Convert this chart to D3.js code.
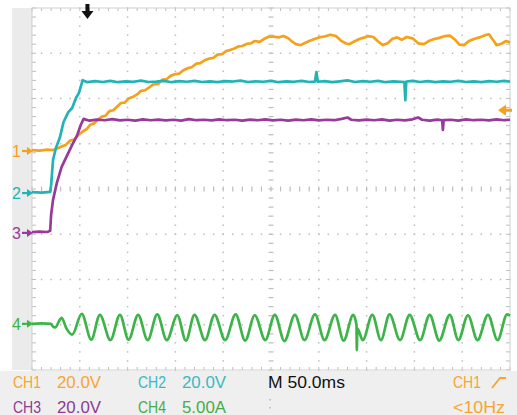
<!DOCTYPE html>
<html>
<head>
<meta charset="utf-8">
<script src="https://cdn.jsdelivr.net/npm/d3@7"></script>
<style>
  html, body { margin: 0; padding: 0; background: #fff; }
  svg { display: block; font-family: "Liberation Sans", Arial, sans-serif; }
</style>
</head>
<body>
<svg id="scope" width="517" height="415"></svg>
<script>
// ---- Acquisition: 50 ms/div, 10 divisions => 0..500 ms ----
const timeRangeMs = [0, 500];

// CH1 (V) – slow ramp to ~49 V with ripple
const ch1Trace = [
  [0,0.4],[8,0.2],[16,0.6],[22,0.4],[27,1.2],[31,2.0],[35,2.6],[40,4.6],[44,5.0],[49,7.4],
  [53,8.6],[57,9.6],[61,11.6],[65,12.2],[69,13.9],[73,15.2],[77,15.6],[81,17.6],[85,18.0],
  [89,19.6],[93,21.2],[97,21.4],[101,23.2],[106,24.0],[110,25.0],[114,26.6],[118,26.8],
  [123,28.2],[127,29.4],[132,29.6],[136,31.4],[141,31.8],[145,33.2],[150,34.0],[154,34.2],
  [158,35.6],[163,36.6],[167,37.0],[172,38.6],[176,38.8],[181,40.2],[185,40.8],[190,41.2],
  [194,42.6],[199,42.8],[203,44.2],[207,44.6],[211,45.2],[216,46.2],[220,46.4],[225,47.4],
  [229,47.6],[233,48.6],[238,48.2],[243,49.6],[247,50.4],[252,50.6],[258,50.2],[263,50.8],
  [268,49.8],[272,48.4],[276,47.2],[281,46.8],[286,47.8],[290,48.6],[295,49.4],[300,50.2],
  [306,50.6],[312,51.4],[318,50.8],[323,48.8],[328,47.6],[332,47.2],[337,48.4],[343,49.6],
  [348,50.2],[352,50.8],[357,50.4],[362,48.4],[367,46.8],[372,47.6],[377,49.6],[382,50.2],
  [387,49.2],[392,50.4],[398,49.8],[404,47.6],[410,47.2],[415,48.6],[420,49.4],[426,50.0],
  [432,50.8],[437,51.0],[442,49.4],[447,47.0],[452,46.8],[457,48.6],[463,49.6],[468,50.2],
  [474,51.2],[478,51.6],[483,48.6],[486,46.8],[491,47.4],[496,48.6],[500,48.0]
];

// CH2 (V) – fast step to ~49 V
const ch2Trace = [
  [0,0.4],[10,0.2],[19,0.5],[20,3.5],[22,14.6],[25,19.9],[29,24.3],[33,31.4],[38,35.8],
  [42,37.6],[46,42.0],[49,44.2],[53,49.9],[58,49.0],[66,49.5],[74,49.1],[82,49.6],[90,49.0],
  [98,49.4],[106,49.2],[114,49.7],[122,49.1],[130,49.3],[138,49.6],[146,49.0],[154,49.5],
  [162,49.2],[170,49.6],[178,49.1],[186,49.4],[194,49.0],[202,49.5],[210,49.3],[218,49.7],
  [226,49.1],[234,49.4],[242,49.2],[250,49.6],[258,49.0],[266,49.4],[274,49.2],[282,49.6],
  [290,49.1],[296,49.3],[297.5,53.5],[299,49.2],[306,49.5],[314,49.0],[322,49.4],[330,49.8],
  [338,49.1],[346,49.5],[354,49.2],[362,49.6],[370,49.0],[378,49.4],[386,49.2],[389.5,49.0],
  [390.5,41.1],[391.5,49.3],[398,49.6],[406,49.1],[414,49.5],[422,49.0],[430,49.4],[438,49.2],
  [446,49.6],[454,49.1],[462,49.4],[470,49.0],[478,49.5],[486,49.2],[494,49.6],[500,49.2]
];

// CH3 (V) – step to ~50 V
const ch3Trace = [
  [0,0.4],[8,0.6],[16,0.4],[19,0.9],[20,8.0],[22,14.6],[26,22.1],[31,29.2],[37,34.5],
  [42,38.9],[47,42.9],[51,47.7],[54,50.4],[60,49.6],[68,50.1],[76,49.8],[84,50.3],[92,49.7],
  [100,50.0],[108,49.6],[116,50.2],[124,49.8],[132,50.1],[140,49.7],[148,50.0],[156,49.6],
  [164,50.3],[172,49.8],[180,50.0],[188,49.7],[196,50.2],[204,49.8],[212,50.0],[220,49.6],
  [228,50.1],[236,49.8],[244,50.2],[252,49.7],[260,50.0],[268,49.6],[276,50.1],[284,49.8],
  [292,50.2],[300,49.7],[308,50.0],[316,49.8],[324,50.4],[330,51.0],[334,50.0],[342,49.7],
  [350,50.1],[358,49.8],[366,50.2],[374,49.6],[382,50.0],[390,49.7],[398,50.2],[404,51.0],
  [408,50.0],[416,49.6],[424,50.1],[429,49.8],[429.8,45.5],[430.6,49.8],[438,50.0],[446,49.6],
  [454,50.2],[462,49.8],[470,50.0],[478,49.7],[486,50.2],[494,49.8],[500,50.0]
];

// CH4 (A) – ~50 Hz current oscillation (peaks / troughs)
const ch4Trace = [
  [0,0],[10,0.05],[20,0],[22,-0.3],[24,-0.4],[31,0.65],[36,-0.5],[42,-1.2],[52,1.1],
  [62,-1.75],[71,1.0],[82,-1.8],[92,1.0],[101,-1.75],[111,1.0],[121,-1.8],[131,1.05],
  [141,-1.8],[152,0.95],[161,-1.85],[170,1.0],[181,-1.8],[191,1.0],[202,-1.8],[213,1.05],
  [223,-1.85],[233,0.95],[244,-1.8],[254,1.0],[264,-1.9],[275,1.0],[285,-1.8],[296,1.05],
  [306,-1.8],[317,1.0],[326,-1.85],[336,1.0],[339.4,-0.1],[339.8,-2.9],[340.3,-0.5],
  [346,-1.8],[356,1.0],[365,-1.8],[374,1.05],[385,-1.8],[395,1.0],[406,-1.8],[416,1.0],
  [426,-1.85],[437,1.0],[446,-1.8],[456,0.95],[466,-1.8],[477,1.0],[487,-1.8],[497,1.05],
  [500,0.9]
];

// Readout texts
const scaleLabels = [
  { ch: "CH1", scale: "20.0V" },
  { ch: "CH2", scale: "20.0V" },
  { ch: "CH3", scale: "20.0V" },
  { ch: "CH4", scale: "5.00A" }
];
const timebaseLabel = "M 50.0ms";
const triggerSourceLabel = "CH1";
const triggerFreqLabel = "<10Hz";
const triggerTimeMs = 58;
const triggerLevelV = 18;

// ---- Display setup ----
const svg = d3.select("#scope");
const W = 517, H = 415;
const L = 32, R = 510, T = 8, B = 370;

const x = d3.scaleLinear().domain(timeRangeMs).range([L, R]);
const yDiv = d3.scaleLinear().domain([-4, 4]).range([B, T]);

const channels = [
  { id: "1", color: "#f5a11c", text: "#f6a530", perDiv: 20, offset: 0.84, data: ch1Trace, curve: d3.curveLinear },
  { id: "2", color: "#22b3b6", text: "#38b9c2", perDiv: 20, offset: -0.09, data: ch2Trace, curve: d3.curveLinear },
  { id: "3", color: "#983a9c", text: "#8d3b92", perDiv: 20, offset: -0.97, data: ch3Trace, curve: d3.curveLinear },
  { id: "4", color: "#3db449", text: "#46ad46", perDiv: 5, offset: -2.98, data: ch4Trace, curve: d3.curveMonotoneX }
];
const yOf = (c, v) => yDiv(c.offset + v / c.perDiv);

// background panels
svg.append("rect").attr("x", 0).attr("y", 0).attr("width", W).attr("height", H).attr("fill", "#fff");
svg.append("rect").attr("x", 0).attr("y", B + 1).attr("width", W).attr("height", H - B - 1).attr("fill", "#efefef");
svg.append("rect").attr("x", 12).attr("y", T).attr("width", L - 12).attr("height", B - T).attr("fill", "#ebebeb");
svg.append("rect").attr("x", L).attr("y", T).attr("width", R - L).attr("height", B - T).attr("fill", "#fff");

// graticule
const g = svg.append("g");
const minorX = d3.range(0, 51).map(i => L + i * (R - L) / 50);
const minorY = d3.range(0, 41).map(i => T + i * (B - T) / 40);
const majorX = d3.range(1, 10).map(i => L + i * (R - L) / 10);
const majorY = d3.range(1, 8).map(i => T + i * (B - T) / 8);
const cx = majorX[4], cy = majorY[3];
const dotCol = "#bdbdbd";

majorY.filter(v => v !== cy).forEach(yy => {
  minorX.forEach(xx => g.append("rect").attr("x", xx - 0.75).attr("y", yy - 0.75)
    .attr("width", 1.5).attr("height", 1.5).attr("fill", dotCol));
});
majorX.filter(v => v !== cx).forEach(xx => {
  minorY.forEach(yy => g.append("rect").attr("x", xx - 0.75).attr("y", yy - 0.75)
    .attr("width", 1.5).attr("height", 1.5).attr("fill", dotCol));
});
// centre axes with ticks
minorY.forEach(yy => g.append("line").attr("x1", cx - 2.5).attr("x2", cx + 2.5)
  .attr("y1", yy).attr("y2", yy).attr("stroke", dotCol).attr("stroke-width", 1.2));
minorX.forEach(xx => g.append("line").attr("x1", xx).attr("x2", xx)
  .attr("y1", cy - 2.5).attr("y2", cy + 2.5).attr("stroke", dotCol).attr("stroke-width", 1.2));
// edge ticks
minorX.forEach(xx => {
  g.append("line").attr("x1", xx).attr("x2", xx).attr("y1", T).attr("y2", T + 3).attr("stroke", dotCol);
  g.append("line").attr("x1", xx).attr("x2", xx).attr("y1", B - 3).attr("y2", B).attr("stroke", dotCol);
});
minorY.forEach(yy => {
  g.append("line").attr("x1", L).attr("x2", L + 4).attr("y1", yy).attr("y2", yy).attr("stroke", dotCol);
  g.append("line").attr("x1", R - 4).attr("x2", R).attr("y1", yy).attr("y2", yy).attr("stroke", dotCol);
});
g.append("rect").attr("x", L).attr("y", T).attr("width", R - L).attr("height", B - T)
  .attr("fill", "none").attr("stroke", "#cfcfcf").attr("stroke-width", 1);

// traces
const traces = svg.append("g");
channels.forEach(c => {
  const line = d3.line().x(d => x(d[0])).y(d => yOf(c, d[1])).curve(c.curve);
  traces.append("path").attr("d", line(c.data)).attr("fill", "none")
    .attr("stroke", c.color).attr("stroke-width", 2.7).attr("stroke-linejoin", "round");
});

// channel ground markers
channels.forEach(c => {
  const yy = yOf(c, 0);
  const m = svg.append("g").attr("fill", c.color);
  m.append("text").attr("x", 12).attr("y", yy + 6).attr("font-size", 16).text(c.id);
  m.append("line").attr("x1", 22).attr("x2", 28).attr("y1", yy).attr("y2", yy)
    .attr("stroke", c.color).attr("stroke-width", 2.2);
  m.append("path").attr("d", `M27,${yy - 4}L33,${yy}L27,${yy + 4}Z`);
});

// trigger position marker
const tx = x(triggerTimeMs);
svg.append("path").attr("fill", "#111")
  .attr("d", `M${tx - 2},4H${tx + 2}V11H${tx + 6}L${tx},19L${tx - 6},11H${tx - 2}Z`);

// trigger level marker (CH1)
const ty = yOf(channels[0], triggerLevelV);
svg.append("path").attr("fill", channels[0].color)
  .attr("d", `M${R - 12},${ty}L${R - 4},${ty - 5.5}V${ty - 1.5}H${R + 2}V${ty + 1.5}H${R - 4}V${ty + 5.5}Z`);

// readouts
const rd = svg.append("g").attr("font-size", 16);
const put = (txt, xx, yy, w, col) => rd.append("text").attr("x", xx).attr("y", yy)
  .attr("fill", col).attr("textLength", w).attr("lengthAdjust", "spacingAndGlyphs").text(txt);
const pos = [[13, 388], [138, 388], [13, 413], [138, 413]];
scaleLabels.forEach((s, i) => {
  const c = channels[i];
  put(s.ch, pos[i][0], pos[i][1], 28, c.text);
  put(s.scale, pos[i][0] + 44, pos[i][1], 44, c.text);
});
put(timebaseLabel, 268, 388, 77, "#111");
put(triggerSourceLabel, 453, 388, 28, channels[0].text);
rd.append("path").attr("d", "M492,388L500,378H506").attr("fill", "none")
  .attr("stroke", channels[0].text).attr("stroke-width", 1.8);
put(triggerFreqLabel, 453, 413, 52, channels[0].text);
rd.append("rect").attr("x", 269.5).attr("y", 399).attr("width", 1).attr("height", 1.5).attr("fill", "#999");
rd.append("rect").attr("x", 269.5).attr("y", 407).attr("width", 1).attr("height", 1.5).attr("fill", "#999");
</script>
</body>
</html>
